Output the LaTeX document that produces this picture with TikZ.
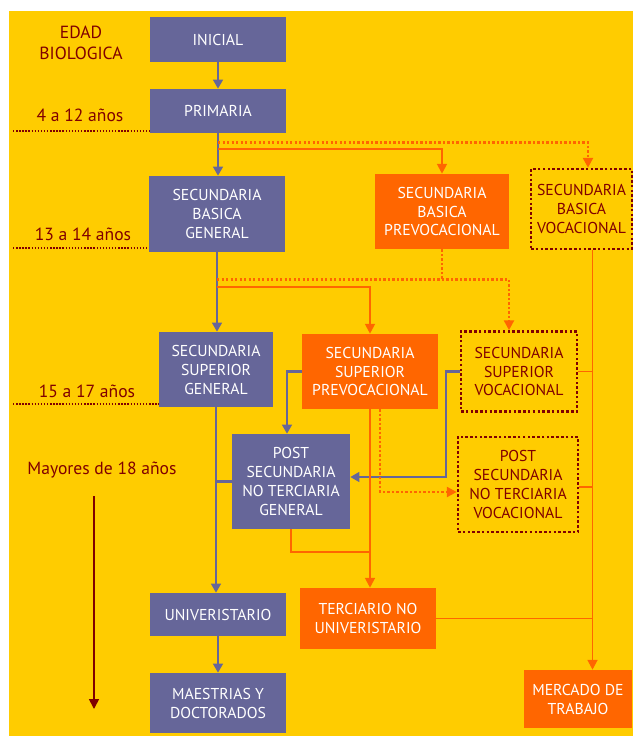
\documentclass[tikz,border=0pt]{standalone}
\usepackage{fontspec}
\setmainfont{PT Sans}
\usetikzlibrary{arrows.meta,calc}
\definecolor{fondo}{HTML}{FFCC00}
\definecolor{azul}{HTML}{666699}
\definecolor{naranja}{HTML}{FF6600}
\definecolor{granate}{HTML}{800000}
\tikzset{
  caja/.style 2 args={minimum width=#1*0.025cm, minimum height=#2*0.025cm,
    inner sep=0pt, align=center, font=\fontsize{11.2}{13.5}\selectfont},
  azulbox/.style 2 args={caja={#1}{#2}, fill=azul, text=white},
  narbox/.style 2 args={caja={#1}{#2}, fill=naranja, text=white},
  vocbox/.style 2 args={caja={#1}{#2}, draw=granate, text=granate,
    line width=1.8pt, dash pattern=on 1.8pt off 1.6pt},
  edad/.style={text=granate, align=center, inner sep=0pt,
    font=\fontsize{12.5}{15}\selectfont},
  limite/.style={granate, line width=1pt, dash pattern=on 1pt off 1.2pt},
  flechaazul/.style={azul, line width=1.5pt, -{Triangle[width=7pt,length=6.5pt]}},
  linazul/.style={azul, line width=1.5pt},
  flechanar/.style={naranja, line width=1.4pt, -{Triangle[width=7pt,length=7pt]}},
  linanar/.style={naranja, line width=1.4pt},
  puntonar/.style={naranja, line width=1.8pt, dash pattern=on 1.6pt off 1.6pt},
  flechagranate/.style={granate, line width=1.2pt, -{Triangle[width=7pt,length=7pt]}}
}
\begin{document}
\begin{tikzpicture}[x=0.025cm,y=-0.025cm]
\useasboundingbox (0,0) rectangle (633,736);
\fill[white] (0,0) rectangle (633,736);
\fill[fondo] (9,11) rectangle (633,736);

% edad biologica
\node[edad] (edadtit) at (81,43) {EDAD\\BIOLOGICA};
\node[edad] (e1) at (80,115) {4 a 12 años};
\node[edad] (e2) at (83,234) {13 a 14 años};
\node[edad] (e3) at (87,391) {15 a 17 años};
\node[edad] (e4) at (102,470) {Mayores de 18 años};

% niveles
\node[azulbox={136}{45}] (inicial) at (218,39.5) {INICIAL};
\node[azulbox={136}{44}] (primaria) at (218,111) {PRIMARIA};
\node[azulbox={136}{76}] (sbg) at (217,214) {SECUNDARIA\\BASICA\\GENERAL};
\node[narbox={134}{75}] (sbp) at (442,211.5) {SECUNDARIA\\BASICA\\PREVOCACIONAL};
\node[vocbox={101}{80}] (sbv) at (581.5,209) {SECUNDARIA\\BASICA\\VOCACIONAL};
\node[azulbox={114}{75}] (ssg) at (216,369.5) {SECUNDARIA\\SUPERIOR\\GENERAL};
\node[narbox={136}{75}] (ssp) at (370,371.5) {SECUNDARIA\\SUPERIOR\\PREVOCACIONAL};
\node[vocbox={116}{80}] (ssv) at (519,371.5) {SECUNDARIA\\SUPERIOR\\VOCACIONAL};
\node[azulbox={118}{95}] (psg) at (291,481.5) {POST\\SECUNDARIA\\NO TERCIARIA\\GENERAL};
\node[vocbox={120}{95}] (psv) at (518,484.5) {POST\\SECUNDARIA\\NO TERCIARIA\\VOCACIONAL};
\node[azulbox={136}{43}] (univ) at (218,614.5) {UNIVERISTARIO};
\node[narbox={136}{61}] (tnu) at (368,618.5) {TERCIARIO NO\\UNIVERISTARIO};
\node[azulbox={136}{60}] (maes) at (218,703) {MAESTRIAS Y\\DOCTORADOS};
\node[narbox={108}{58}] (merc) at (578,699) {MERCADO DE\\TRABAJO};

% lineas de edad
\coordinate (l1) at (13,131);
\coordinate (l2) at (13,248);
\coordinate (l3) at (13,404);
\draw[limite] (l1) -- (l1 -| primaria.west);
\draw[limite] (l2) -- (l2 -| sbg.west);
\draw[limite] (l3) -- (l3 -| ssg.west);
\coordinate (t0) at (94,496);
\coordinate (t1) at (94,709);
\draw[flechagranate] (t0) -- (t1);

% nudos
\coordinate (n1) at ($(primaria.south)+(0,9)$);
\coordinate (n2) at ($(primaria.south)+(0,16)$);
\coordinate (n3) at ($(sbg.south)+(0,27)$);
\coordinate (n4) at ($(sbg.south)+(0,35)$);
\coordinate (tronco) at ($(sbv.south)+(11,0)$);
\coordinate (n5) at ($(psg.south)+(0,23)$);

% conexiones
\draw[flechaazul] (inicial.south) -- (inicial.south |- primaria.north);
\draw[flechaazul] (primaria.south) -- (primaria.south |- sbg.north);
\draw[puntonar, -{Triangle[width=7pt,length=7pt]}] (n1) -| ($(sbv.north)+(6.5,0)$);
\draw[flechanar] (n2) -| (sbp.north);
\draw[flechaazul] (sbg.south) -- (sbg.south |- ssg.north);
\draw[puntonar] (sbp.south) -- (sbp.south |- n3);
\draw[puntonar, -{Triangle[width=7pt,length=7pt]}] (n3) -| ($(ssv.north)+(-10,0)$);
\draw[flechanar] (n4) -| (ssp.north);
\draw[flechanar] (tronco) -- (tronco |- merc.north);
\draw[linanar] (ssv.east) -- (ssv.east -| tronco);
\draw[linanar] ($(psv.east)+(0,2.5)$) -- ($(psv.east -| tronco)+(0,2.5)$);
\draw[linanar] (tnu.east) -- (tnu.east -| tronco);
\draw[flechaazul] (ssg.south) -- (ssg.south |- univ.north);
\draw[linazul] (psg.west) -- (psg.west -| ssg.south);
\draw[flechaazul] (ssp.west) -| ($(psg.north)+(-4,0)$);
\draw[flechaazul] (ssv.west) -- ++(-14,0) |- ($(psg.east)+(0,-4.5)$);
\draw[flechanar] (ssp.south) -- (ssp.south |- tnu.north);
\draw[puntonar, -{Triangle[width=7pt,length=7pt]}] ($(ssp.south)+(10,0)$) |- ($(psv.west)+(0,7.5)$);
\draw[linanar] (psg.south) -- (n5) -- (n5 -| ssp.south);
\draw[flechaazul] (univ.south) -- (univ.south |- maes.north);
\end{tikzpicture}
\end{document}
